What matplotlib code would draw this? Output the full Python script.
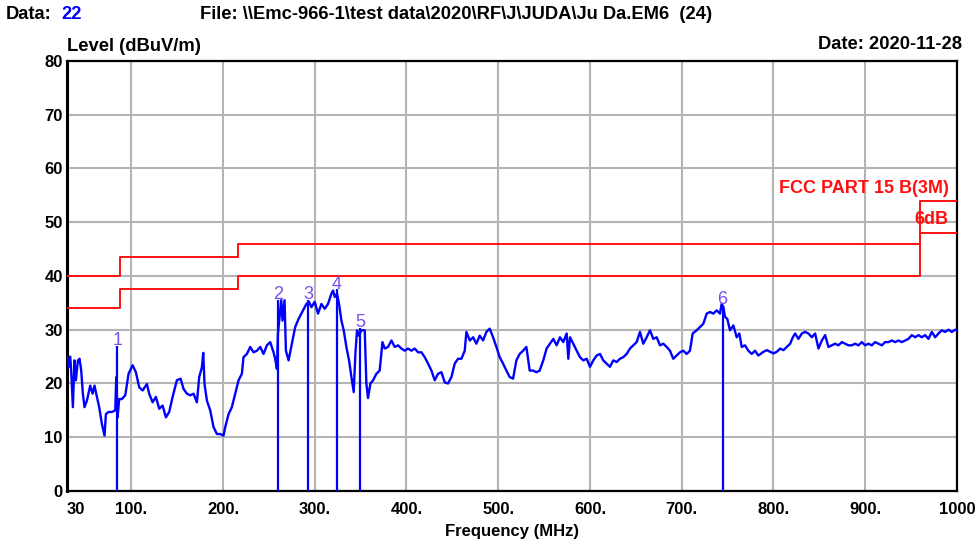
import matplotlib
matplotlib.use("Agg")
import matplotlib.pyplot as plt

# ------------------------------------------------------------------
# radiated emission scan, 30 MHz - 1 GHz
# ------------------------------------------------------------------
freq_mhz = [
    30.0, 31.7, 33.5, 34.6, 36.4, 38.2, 39.7, 41.9, 43.7, 45.5, 47.3, 49.1,
    51.7, 55.3, 57.9, 60.0, 62.6, 65.1, 68.0, 70.9, 72.4, 75.3, 78.9, 82.6,
    83.7, 85.1, 86.9, 89.8, 93.5, 97.1, 101.5, 105.1, 108.7, 112.4, 117.1,
    119.6, 123.3, 126.9, 130.5, 134.2, 137.8, 141.4, 145.1, 149.8, 153.8,
    157.0, 160.7, 164.3, 167.9, 171.6, 174.1, 177.0, 178.5, 179.9, 182.5,
    186.1, 189.7, 193.4, 197.0, 200.6, 202.5, 206.1, 209.7, 213.4, 217.0,
    220.6, 222.4, 226.1, 229.7, 233.3, 237.0, 240.6, 244.2, 247.9, 251.5,
    255.1, 256.9, 258.8, 259.9, 262.4, 263.5, 264.9, 267.1, 268.6, 271.5,
    275.1, 278.7, 282.4, 287.3, 290.9, 293.8, 296.4, 300.0, 303.6, 307.3,
    310.9, 314.5, 318.2, 320.0, 321.8, 324.3, 326.5, 329.1, 331.6, 334.5,
    337.4, 340.0, 342.5, 344.3, 346.1, 348.0, 350.9, 354.5, 356.3, 358.1,
    360.7, 363.6, 367.2, 370.8, 373.8, 376.3, 379.9, 383.6, 387.2, 390.8,
    394.5, 398.1, 401.7, 405.4, 409.0, 412.6, 416.3, 419.9, 423.5, 427.2,
    430.8, 434.4, 438.1, 441.7, 445.3, 449.0, 452.6, 456.2, 459.9, 463.5,
    465.3, 469.0, 472.6, 476.2, 479.8, 483.5, 487.1, 490.7, 494.4, 498.0,
    501.6, 505.3, 508.9, 512.5, 516.2, 519.8, 523.4, 527.1, 530.7, 534.3,
    538.0, 541.6, 545.2, 549.1, 552.7, 556.4, 560.0, 563.7, 567.3, 570.9,
    574.6, 576.4, 578.2, 581.8, 585.5, 589.1, 592.7, 596.4, 600.0, 603.6,
    607.3, 610.9, 614.5, 618.2, 621.8, 625.4, 629.1, 632.7, 636.3, 640.0,
    643.6, 647.2, 650.9, 654.5, 658.1, 661.8, 665.4, 669.0, 672.7, 676.3,
    679.9, 683.6, 687.2, 690.8, 694.5, 698.1, 701.7, 705.4, 709.0, 711.9,
    716.3, 719.9, 723.5, 727.2, 730.8, 734.4, 738.1, 741.7, 743.5, 745.4,
    747.2, 749.7, 752.6, 756.3, 759.9, 762.8, 765.4, 769.0, 772.6, 776.3,
    779.9, 783.5, 789.1, 792.7, 796.4, 800.0, 803.6, 807.3, 810.9, 814.5,
    818.2, 821.1, 823.6, 827.2, 830.9, 834.5, 838.1, 841.8, 845.4, 849.0,
    852.7, 856.3, 859.9, 863.6, 867.2, 870.8, 874.5, 878.1, 881.7, 885.4,
    889.0, 892.6, 896.3, 899.9, 903.5, 907.2, 910.8, 914.4, 918.1, 921.7,
    925.3, 929.0, 932.6, 936.2, 939.9, 943.5, 947.1, 950.8, 954.4, 958.0,
    961.7, 965.3, 968.9, 972.6, 976.2, 979.8, 983.5, 987.1, 990.7, 994.4,
    998.0, 1000.0,
]
level_dbuv = [
    25.0, 23.0, 25.0, 22.4, 15.6, 24.3, 20.6, 24.3, 24.6, 22.4, 18.1, 15.6,
    16.8, 19.6, 18.1, 19.6, 17.5, 15.6, 12.5, 10.3, 14.3, 14.7, 14.7, 15.0,
    21.2, 13.7, 17.1, 17.1, 17.8, 21.8, 23.4, 22.1, 19.3, 18.7, 19.9,
    18.1, 16.5, 17.5, 15.3, 15.9, 13.7, 14.7, 17.5, 20.6, 20.9,
    19.0, 18.1, 17.8, 18.1, 16.5, 21.2, 23.0, 25.7, 19.9, 16.8,
    15.0, 11.9, 10.6, 10.6, 10.3, 11.9, 14.3, 15.6, 18.1, 20.6,
    21.8, 24.9, 25.5, 26.8, 25.8, 26.1, 26.8, 25.5, 27.1, 27.7,
    25.8, 24.6, 22.7, 29.3, 33.6, 35.5, 31.7, 35.5, 26.1, 24.3,
    27.4, 30.5, 32.0, 33.6, 34.8, 35.2, 34.2, 35.2, 33.0, 34.8,
    33.9, 34.8, 36.7, 37.3, 36.1, 36.7, 34.8, 31.7, 29.9, 26.8,
    24.3, 21.2, 18.4, 25.5, 29.9, 28.9, 29.9, 29.9, 20.0, 17.3,
    20.0, 20.6, 21.8, 22.4, 27.7, 26.5, 26.8, 28.0, 26.8, 27.1,
    26.5, 26.1, 26.5, 26.1, 26.5, 25.8, 25.8, 24.9, 23.7, 22.4,
    20.6, 21.8, 22.1, 20.2, 20.0, 21.2, 23.7, 24.6, 24.6, 26.1,
    29.6, 28.0, 28.6, 27.4, 28.9, 28.0, 29.6, 30.2, 28.6, 26.8,
    24.9, 23.7, 22.4, 21.2, 20.9, 24.3, 25.5, 26.1, 26.8, 22.4,
    22.4, 22.1, 22.4, 24.3, 26.5, 27.4, 28.3, 27.1, 28.6, 27.7,
    29.3, 24.6, 28.6, 27.4, 26.1, 24.9, 24.3, 24.6, 23.1, 24.3,
    25.2, 25.5, 24.3, 23.7, 23.1, 24.3, 24.0, 24.6, 24.9, 25.5,
    26.5, 27.1, 27.7, 29.6, 27.4, 28.6, 29.9, 28.3, 28.6, 27.1,
    27.4, 26.8, 26.1, 24.6, 25.2, 25.8, 26.1, 25.5, 26.1, 29.3,
    29.9, 30.5, 31.1, 33.0, 33.3, 33.0, 33.6, 33.0, 34.8, 34.2,
    32.4, 32.0, 29.9, 30.8, 28.6, 29.3, 26.8, 27.1, 26.1, 25.5,
    26.1, 25.2, 25.9, 26.2, 25.9, 25.6, 25.9, 26.5, 26.2, 26.8,
    27.4, 28.6, 29.3, 28.3, 29.3, 29.6, 29.3, 28.6, 29.3, 26.5,
    28.0, 29.0, 26.8, 27.1, 27.4, 27.1, 27.7, 27.4, 27.1, 27.1,
    27.4, 27.1, 27.7, 27.1, 27.4, 27.1, 27.7, 27.4, 27.1, 27.7,
    27.7, 28.0, 27.7, 28.0, 27.7, 28.0, 28.3, 29.0, 28.6, 29.0,
    28.6, 29.0, 28.3, 29.6, 28.6, 29.3, 29.9, 29.6, 30.0, 29.6,
    30.0, 29.9,
]

# FCC Part 15 class B limit at 3 m, and the -6 dB margin line
limit_edges = [30, 88, 216, 960, 1000]
limit_levels = [40.0, 43.5, 46.0, 54.0]
margin_db = 6.0

# peak markers
marker_ids = ["1", "2", "3", "4", "5", "6"]
marker_freq = [84.8, 260.3, 293.0, 324.2, 349.5, 744.6]
marker_level = [27.0, 35.5, 35.5, 37.5, 30.4, 34.6]

x_ticks = [30, 100, 200, 300, 400, 500, 600, 700, 800, 900, 1000]
x_tick_labels = ["30", "100.", "200.", "300.", "400.", "500.",
                 "600.", "700.", "800.", "900.", "1000"]
y_ticks = [0, 10, 20, 30, 40, 50, 60, 70, 80]

plt.rcParams["font.family"] = ["Liberation Sans", "DejaVu Sans"]

BLUE = "#0000ff"
RED = "#ff1010"
MARK = "#7a50e8"
HDR = 13.2

fig = plt.figure(figsize=(9.78, 5.45), dpi=100)
ax = fig.add_axes([0.0685, 0.0991, 0.910, 0.789])

# limit lines (drawn as steps over the band edges)
lim_x = []
lim_y = []
lim_y6 = []
for i, lv in enumerate(limit_levels):
    lim_x += [limit_edges[i], limit_edges[i + 1]]
    lim_y += [lv, lv]
    lim_y6 += [lv - margin_db, lv - margin_db]
ax.plot(lim_x, lim_y, color=RED, lw=1.4, zorder=3)
ax.plot(lim_x, lim_y6, color=RED, lw=1.4, zorder=3)

ax.plot(freq_mhz, level_dbuv, color=BLUE, lw=1.7, zorder=4)

for mid, f, lv in zip(marker_ids, marker_freq, marker_level):
    ax.vlines(f, 0, lv, color=BLUE, lw=1.6, zorder=5)
    ax.text(f, lv - 0.6, mid, color=MARK, fontsize=13, ha="center",
            va="bottom", zorder=6)

ax.text(991, 56.3, "FCC PART 15 B(3M)", color=RED, fontsize=13,
        fontweight="bold", ha="right", va="center")
ax.text(991, 50.5, "6dB", color=RED, fontsize=13, fontweight="bold",
        ha="right", va="center")

ax.set_xlim(30, 1000)
ax.set_ylim(0, 80)
ax.set_xticks(x_ticks)
ax.set_xticklabels(x_tick_labels, fontsize=12, fontweight="bold")
ax.get_xticklabels()[0].set_horizontalalignment("left")
ax.set_yticks(y_ticks)
ax.set_yticklabels([str(v) for v in y_ticks], fontsize=12, fontweight="bold")
ax.tick_params(axis="x", length=0, pad=8)
ax.tick_params(axis="y", length=0, pad=3)
ax.grid(True, color="#b4b4b4", lw=1.5, zorder=0)
ax.set_axisbelow(True)
for side in ["left", "right", "top", "bottom"]:
    ax.spines[side].set_color("black")
    ax.spines[side].set_linewidth(1.6)
ax.spines["left"].set_linewidth(2.2)

ax.set_xlabel("Frequency (MHz)", fontsize=12, fontweight="bold", labelpad=5)

# header lines
fig.text(0.006, 0.974, "Data:", fontsize=HDR, fontweight="bold", va="center")
fig.text(0.063, 0.974, "22", fontsize=HDR, fontweight="bold", va="center",
         color=BLUE)
fig.text(0.205, 0.974,
         "File: \\\\Emc-966-1\\test data\\2020\\RF\\J\\JUDA\\Ju Da.EM6  (24)",
         fontsize=HDR, fontweight="bold", va="center")
fig.text(0.0685, 0.915, "Level (dBuV/m)", fontsize=HDR, fontweight="bold",
         va="center")
fig.text(0.984, 0.918, "Date: 2020-11-28", fontsize=HDR, fontweight="bold",
         va="center", ha="right")

fig.savefig("out.png", dpi=100)
